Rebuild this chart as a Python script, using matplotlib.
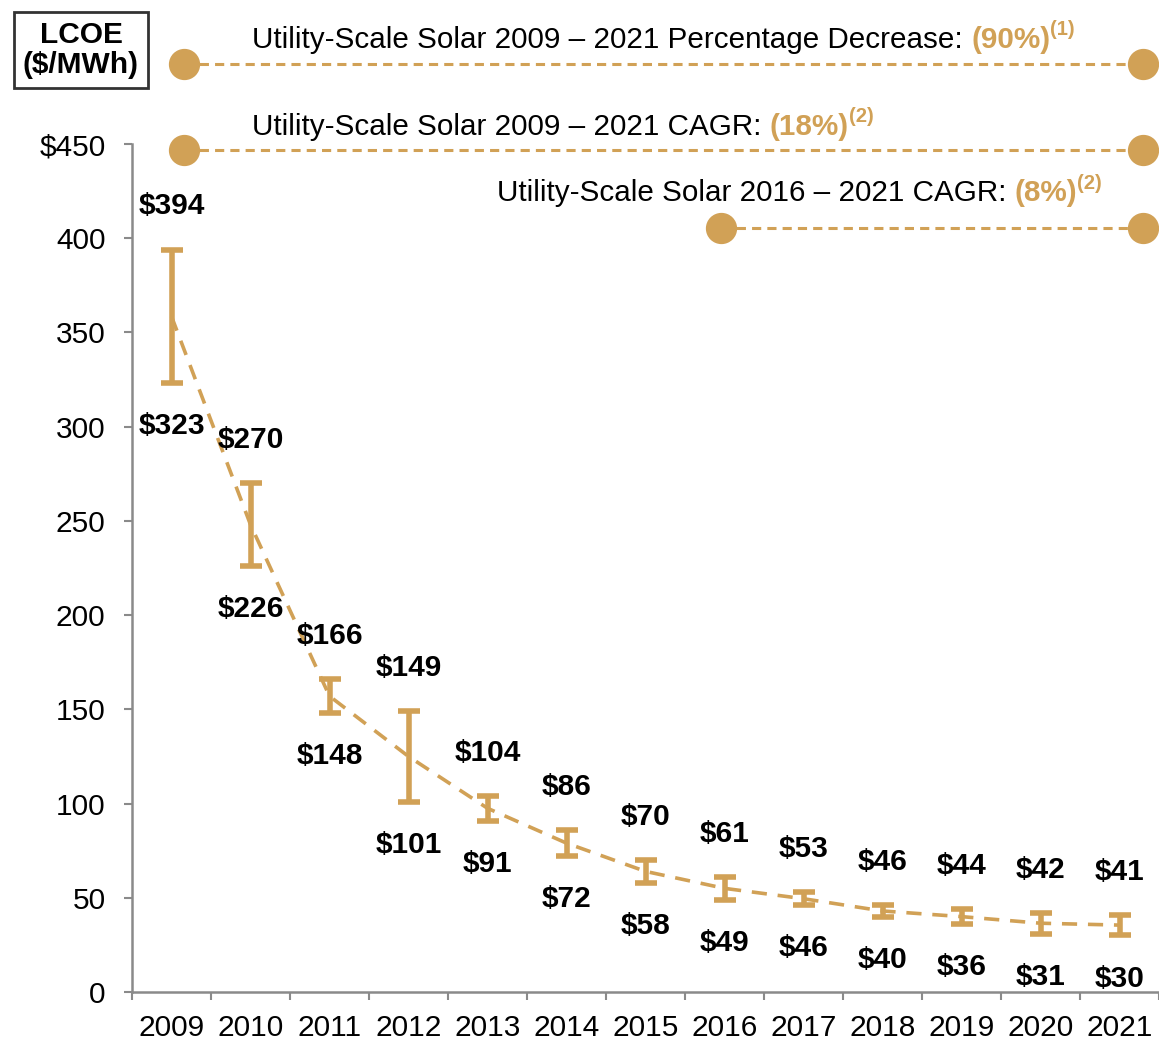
import matplotlib
matplotlib.use("Agg")
import matplotlib.pyplot as plt
import numpy as np

plt.rcParams['font.family'] = ['Liberation Sans', 'DejaVu Sans']

years = ['2009', '2010', '2011', '2012', '2013', '2014', '2015',
         '2016', '2017', '2018', '2019', '2020', '2021']
lcoe_high = [394, 270, 166, 149, 104, 86, 70, 61, 53, 46, 44, 42, 41]
lcoe_low = [323, 226, 148, 101, 91, 72, 58, 49, 46, 40, 36, 31, 30]
yticks = [0, 50, 100, 150, 200, 250, 300, 350, 400, 450]

gold = '#D1A156'
x = np.arange(len(years))
hi = np.array(lcoe_high)
lo = np.array(lcoe_low)
mid = (hi + lo) / 2.0

fig = plt.figure(figsize=(11.59, 10.41), dpi=100)
ax = fig.add_axes([132 / 1159, 49 / 1041, 1027 / 1159, 848 / 1041])

# trend line through the middle of each range
ax.plot(x, mid, color=gold, lw=2.6, dashes=(4.2, 3), zorder=2)
ax.errorbar(x, mid, yerr=[mid - lo, hi - mid], fmt='none', ecolor=gold,
            elinewidth=4, capsize=7.8, capthick=4, zorder=3)

for i in range(len(years)):
    ax.annotate('$' + str(lcoe_high[i]), (x[i], hi[i]), xytext=(0, 31),
                textcoords='offset points', ha='center', va='center',
                fontsize=21.5, fontweight='bold')
    ax.annotate('$' + str(lcoe_low[i]), (x[i], lo[i]), xytext=(0, -31),
                textcoords='offset points', ha='center', va='center',
                fontsize=21.5, fontweight='bold')

ax.set_xlim(-0.5, 12.48)
ax.set_ylim(0, 450)
ax.set_xticks(x)
ax.set_xticklabels(years)
ax.set_xticks(np.arange(-0.5, 12.6, 1), minor=True)
ax.tick_params(axis='x', which='major', length=0, pad=16, labelsize=21.5)
ax.tick_params(axis='x', which='minor', length=6, width=1.5, color='#8a8a8a')
ax.set_yticks(yticks)
ax.set_yticklabels([str(v) for v in yticks[:-1]] + ['$' + str(yticks[-1])])
ax.tick_params(axis='y', length=6, width=1.5, color='#8a8a8a', pad=13,
               labelsize=21.5)

for s in ['top', 'right']:
    ax.spines[s].set_visible(False)
for s in ['left', 'bottom']:
    ax.spines[s].set_color('#8a8a8a')
    ax.spines[s].set_linewidth(1.8)

# CAGR / decrease callouts
callouts = [
    ('Utility-Scale Solar 2009 \u2013 2021 Percentage Decrease: ', '(90%)', '(1)',
     1.02, 501, 0.164, 12.3, 492.6),
    ('Utility-Scale Solar 2009 \u2013 2021 CAGR: ', '(18%)', '(2)',
     1.02, 455, 0.164, 12.3, 447),
    ('Utility-Scale Solar 2016 \u2013 2021 CAGR: ', '(8%)', '(2)',
     4.12, 419.5, 6.95, 12.3, 405.5),
]
for txt, pct, note, tx, ty, x0, x1, ly in callouts:
    ax.plot([x0, x1], [ly, ly], color=gold, lw=2.2, dashes=(3, 2),
            clip_on=False, zorder=2)
    ax.plot([x0, x1], [ly, ly], 'o', color=gold, ms=21.5, clip_on=False, zorder=3)
    t1 = ax.text(tx, ty, txt, fontsize=21.3, va='baseline', ha='left')
    t2 = ax.annotate(pct, xy=(1, ty), xycoords=(t1, 'data'), va='baseline',
                     ha='left', fontsize=21.3, fontweight='bold', color=gold)
    ax.annotate(note, xy=(1, ty), xycoords=(t2, 'data'), xytext=(0, 9),
                textcoords='offset points', va='baseline', ha='left',
                fontsize=14.5, fontweight='bold', color=gold)

fig.text(81 / 1159, 1 - 50 / 1041, 'LCOE\n($/MWh)', ha='center', va='center',
         fontsize=21.5, fontweight='bold', linespacing=1.12,
         bbox=dict(boxstyle='square,pad=0.3', fc='white', ec='#333333', lw=2))

fig.savefig('out.png', dpi=100)
